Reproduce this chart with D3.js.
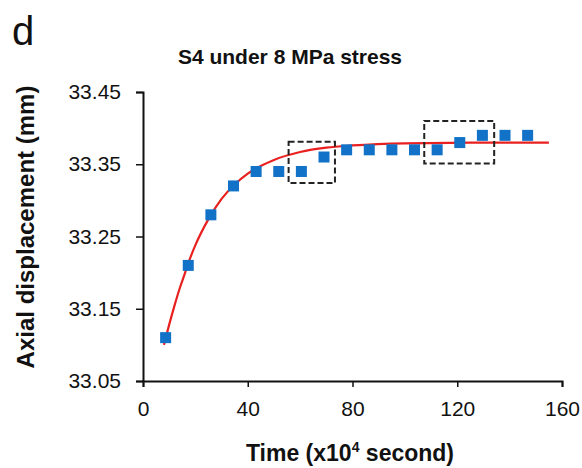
<!DOCTYPE html>
<html>
<head>
<meta charset="utf-8">
<script src="https://cdn.jsdelivr.net/npm/d3@7"></script>
<style>
    body { margin: 0; background: #fff; }
    svg text { font-family: "Liberation Sans", Arial, sans-serif; fill: #111; }
</style>
</head>
<body>
<div class="chart"></div>
<script>
// measured points (time in 1e4 s, displacement in mm)
var times = [8.64, 17.28, 25.92, 34.56, 43.2, 51.84, 60.48, 69.12, 77.76, 86.4, 95.04, 103.68, 112.32, 120.96, 129.6, 138.24, 146.88];
var displacement = [33.11, 33.21, 33.28, 33.32, 33.34, 33.34, 33.34, 33.36, 33.37, 33.37, 33.37, 33.37, 33.37, 33.38, 33.39, 33.39, 33.39];

// fitted curve
var fitTimes = [8, 10, 12, 14, 16, 18, 20, 25, 30, 35, 40, 50, 60, 70, 80, 100, 130, 155];
var fitValues = [33.100, 33.128, 33.154, 33.178, 33.199, 33.220, 33.238, 33.274, 33.302, 33.322, 33.337, 33.356, 33.367, 33.373, 33.376, 33.379, 33.380, 33.380];

// dashed highlight boxes [x0, x1, yTop, yBottom]
var boxes = [
    [55.6, 73.3, 33.381, 33.324],
    [107.4, 134.1, 33.410, 33.351]
];

var xTicks = [0, 40, 80, 120, 160];
var yTicks = [33.05, 33.15, 33.25, 33.35, 33.45];

var W = 582, H = 468;
var margin = {left: 143, right: 20, top: 92, bottom: 87};

var svg = d3.select(".chart").append("svg")
    .attr("width", W)
    .attr("height", H);

var x = d3.scaleLinear().domain([0, 160]).range([margin.left, W - margin.right]);
var y = d3.scaleLinear().domain([33.05, 33.45]).range([H - margin.bottom, margin.top]);

// axes
var xAxis = svg.append("g")
    .attr("transform", "translate(0," + y(33.05) + ")")
    .call(d3.axisBottom(x).tickValues(xTicks).tickSize(6).tickSizeOuter(6).tickPadding(14).tickFormat(d3.format("d")));

var yAxis = svg.append("g")
    .attr("transform", "translate(" + x(0) + ",0)")
    .call(d3.axisLeft(y).tickValues(yTicks).tickSize(7).tickSizeOuter(7).tickPadding(15).tickFormat(d3.format(".2f")));

[xAxis, yAxis].forEach(function(a) {
    a.select(".domain").attr("stroke", "#111").attr("stroke-width", 2);
    a.selectAll(".tick line").attr("stroke", "#111").attr("stroke-width", 1.5);
    a.selectAll(".tick text")
        .style("font-family", "'Liberation Sans', Arial, sans-serif")
        .style("font-size", "21px")
        .attr("fill", "#222");
});

// fitted curve
var line = d3.line()
    .x(function(d, i) { return x(fitTimes[i]); })
    .y(function(d) { return y(d); })
    .curve(d3.curveMonotoneX);

svg.append("path")
    .datum(fitValues)
    .attr("d", line)
    .attr("fill", "none")
    .attr("stroke", "#e8201f")
    .attr("stroke-width", 2.2);

// data markers
var size = 11;
svg.selectAll(".pt")
    .data(displacement)
    .enter().append("rect")
    .attr("class", "pt")
    .attr("x", function(d, i) { return x(times[i]) - size / 2; })
    .attr("y", function(d) { return y(d) - size / 2; })
    .attr("width", size)
    .attr("height", size)
    .attr("fill", "#1172c8");

// dashed boxes
svg.selectAll(".box")
    .data(boxes)
    .enter().append("rect")
    .attr("class", "box")
    .attr("x", function(d) { return x(d[0]); })
    .attr("y", function(d) { return y(d[2]); })
    .attr("width", function(d) { return x(d[1]) - x(d[0]); })
    .attr("height", function(d) { return y(d[3]) - y(d[2]); })
    .attr("fill", "none")
    .attr("stroke", "#222")
    .attr("stroke-width", 2)
    .attr("stroke-dasharray", "6,3");

// texts
svg.append("text")
    .attr("x", 12)
    .attr("y", 45)
    .style("font-size", "40px")
    .text("d");

svg.append("text")
    .attr("x", 290)
    .attr("y", 64)
    .attr("text-anchor", "middle")
    .style("font-size", "21px")
    .style("font-weight", "bold")
    .text("S4 under 8 MPa stress");

var xt = svg.append("text")
    .attr("x", 350)
    .attr("y", 461)
    .attr("text-anchor", "middle")
    .style("font-size", "23px")
    .style("font-weight", "bold");
xt.append("tspan").text("Time (x10");
xt.append("tspan").attr("dy", -9).style("font-size", "14px").text("4");
xt.append("tspan").attr("dy", 9).text(" second)");

svg.append("text")
    .attr("transform", "translate(34," + 227 + ") rotate(-90)")
    .attr("text-anchor", "middle")
    .style("font-size", "24px")
    .style("font-weight", "bold")
    .text("Axial displacement (mm)");
</script>
</body>
</html>
